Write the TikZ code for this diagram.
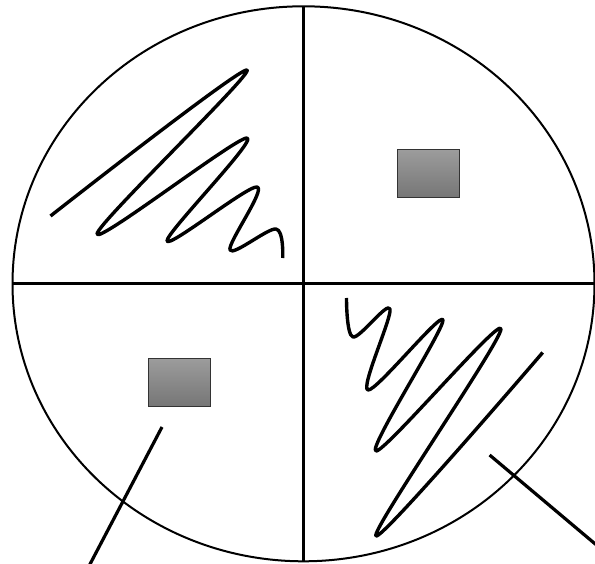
\documentclass[tikz,border=0pt]{standalone}
\usetikzlibrary{positioning}
\definecolor{boxtop}{HTML}{9C9C9C}
\definecolor{boxbottom}{HTML}{767676}
\definecolor{boxedge}{HTML}{333333}

\tikzset{
  rim/.style={line width=2pt},
  divider/.style={line width=3.2pt},
  scribble/.style={line width=3.4pt, line cap=butt, line join=round},
  pointer/.style={line width=3.2pt},
  chip/.style={rectangle, draw=boxedge, line width=1pt, top color=boxtop,
               bottom color=boxbottom, minimum width=62pt, minimum height=48pt,
               inner sep=0pt}
}

\begin{document}
\begin{tikzpicture}[x=1pt, y=-1pt]
  \useasboundingbox (0,0) rectangle (595,564);

  % dish outline and its quarters
  \coordinate (ctr) at (303.5,283.8);
  \draw[rim] (ctr) ellipse [x radius=291, y radius=277.5];
  \coordinate (topend) at (303.5,6.3);
  \coordinate (botend) at (303.5,561.3);
  \coordinate (leftend) at (12.5,283.8);
  \coordinate (rightend) at (595,283.8);
  \draw[divider] (topend) -- (botend);
  \draw[divider] (leftend) -- (rightend);

  % the two grey blocks
  \node[chip] (blockne) at (428,173.5) {};
  \node[chip] (blocksw) at (179.3,382.3) {};

  % scribbles, upper left and lower right
  \draw[scribble] plot[smooth, tension=0.55] coordinates {
    (50.5,216) (247,70) (97,234) (247,138) (167,241)
    (257,187) (230,250) (276,229) (282.7,258)};
  \draw[scribble] plot[smooth, tension=0.55] coordinates {
    (346.5,298) (353,337) (390,309) (368,390) (443,320)
    (376,451) (501,329) (376,536) (542.7,352.5)};

  % pointer lines running off the page
  \coordinate (pinsw) at (162,427);
  \coordinate (tailsw) at (88,568);
  \coordinate (pinse) at (489.6,455);
  \coordinate (tailse) at (600,548);
  \draw[pointer] (pinsw) -- (tailsw);
  \draw[pointer] (pinse) -- (tailse);
\end{tikzpicture}
\end{document}
